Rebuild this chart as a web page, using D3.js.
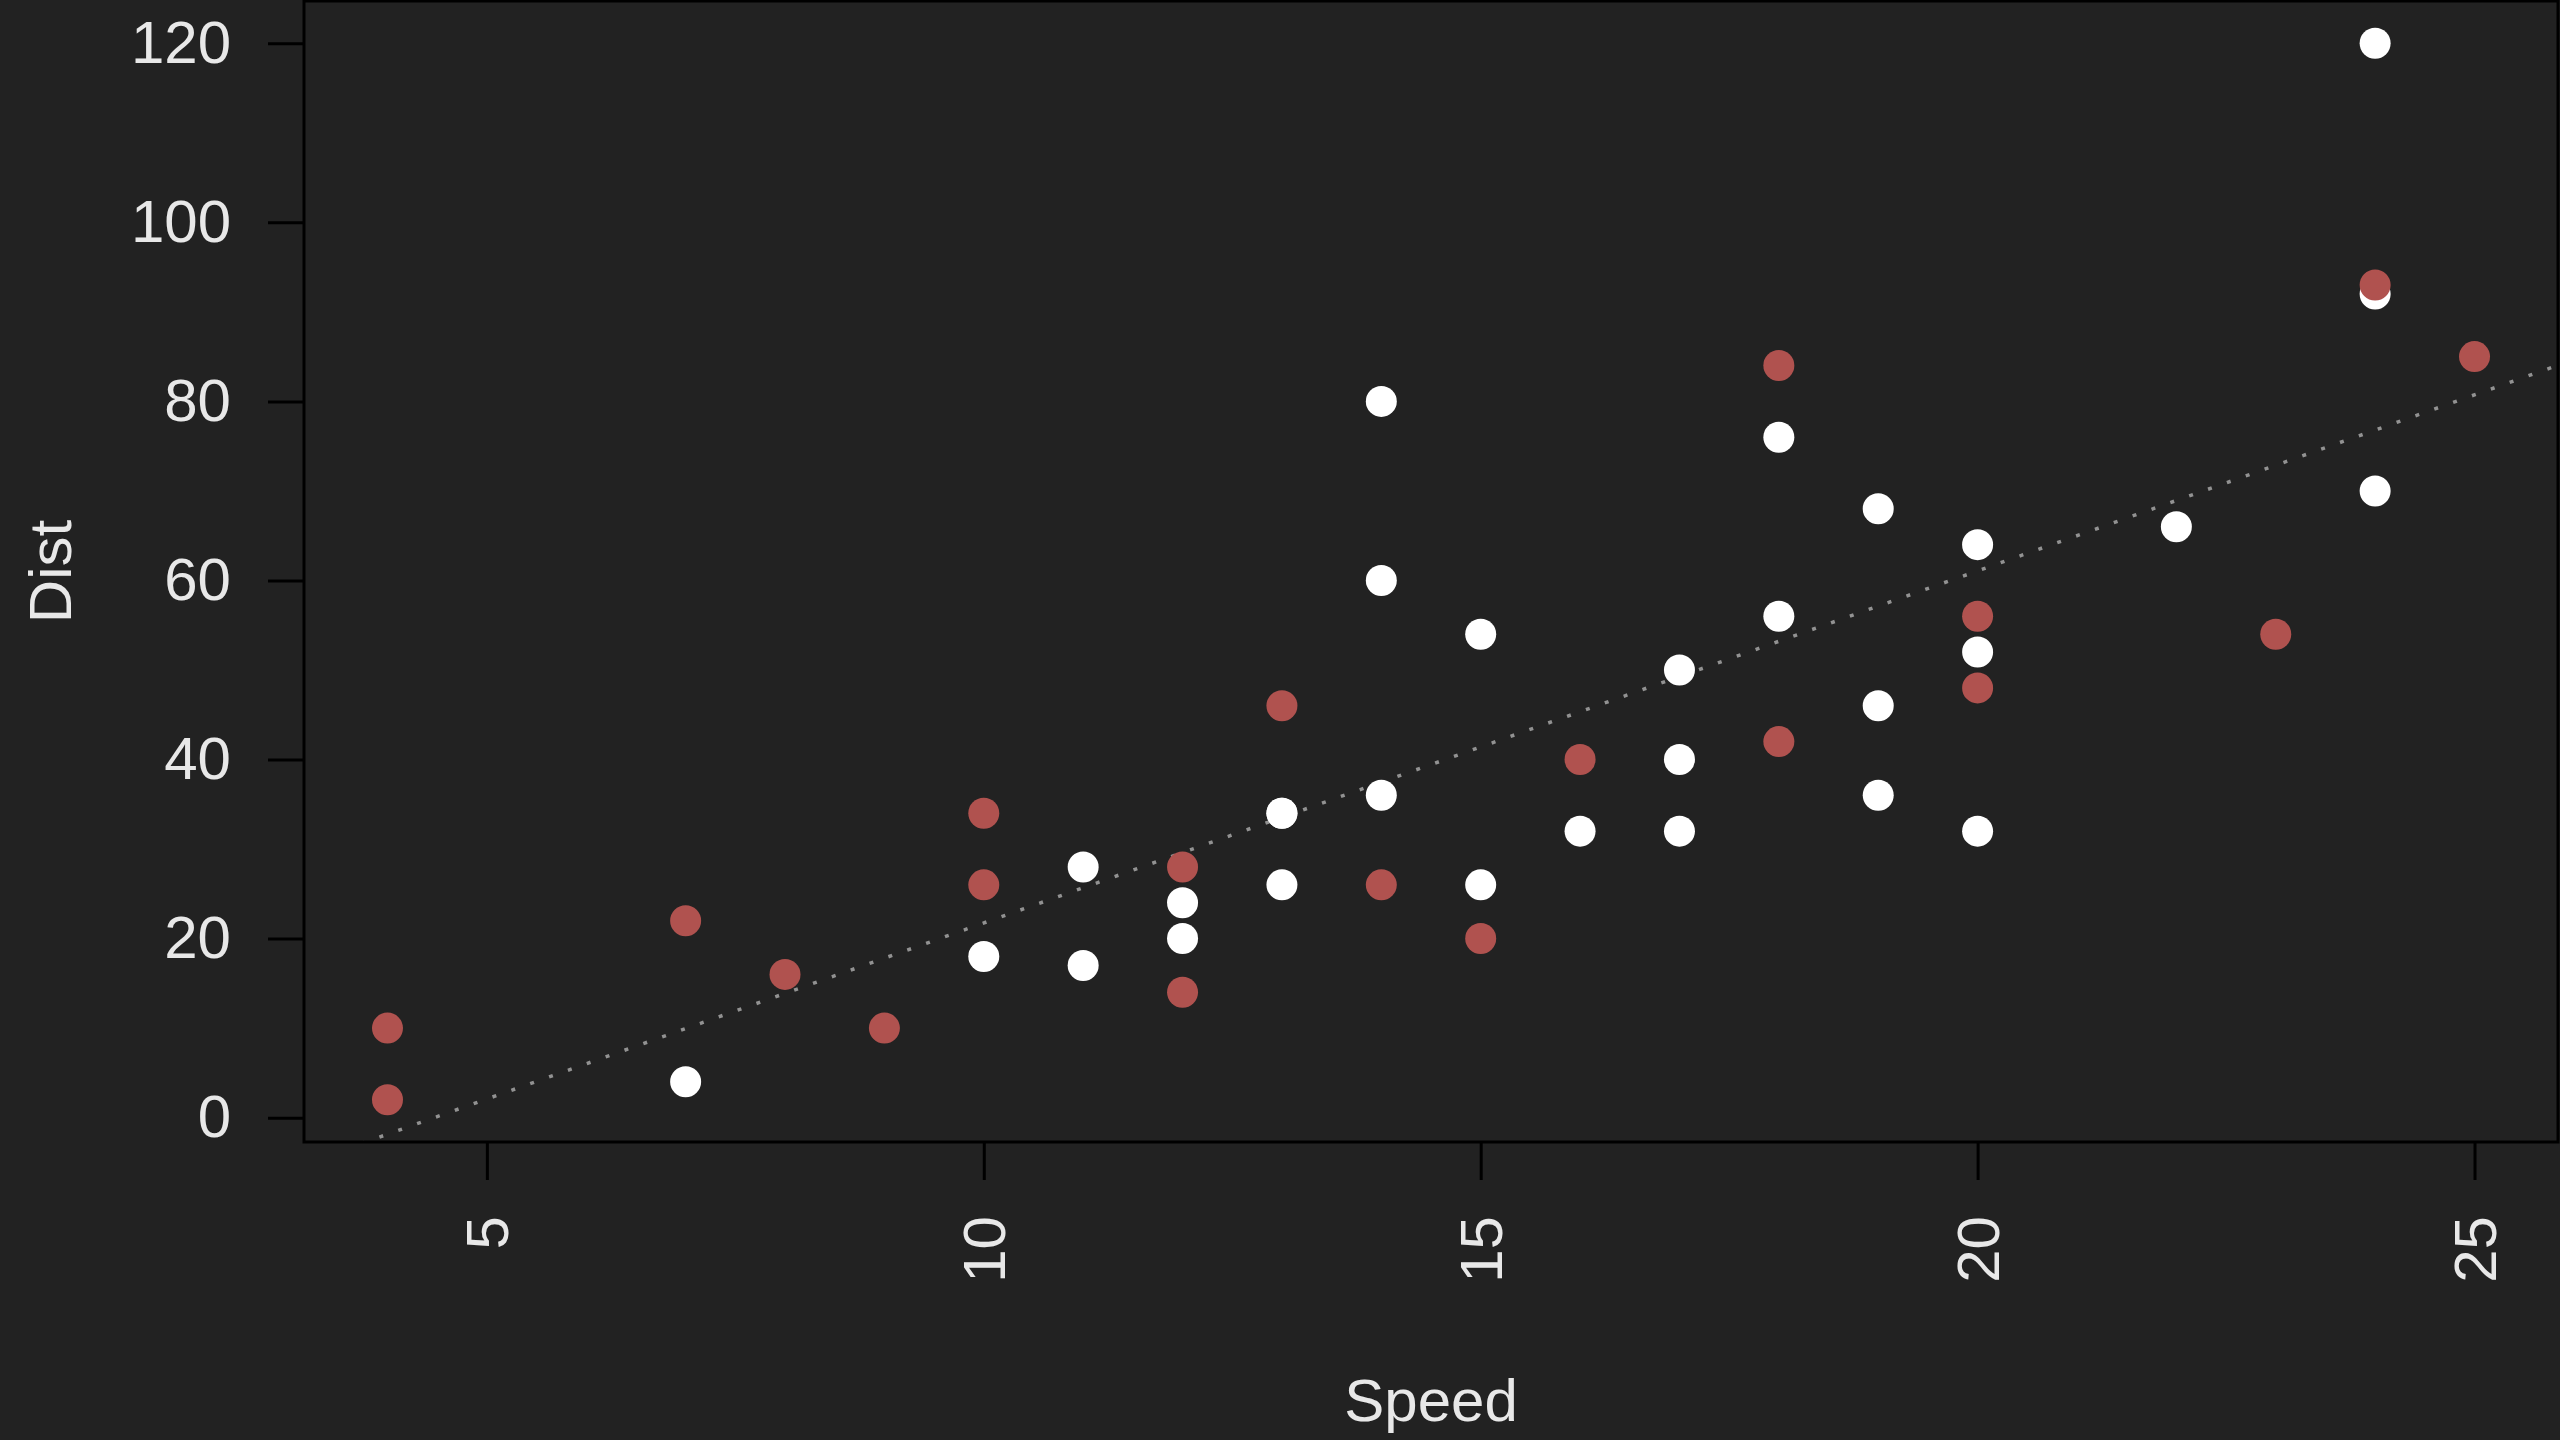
<!DOCTYPE html>
<html>
<head>
<meta charset="utf-8">
<script src="https://cdn.jsdelivr.net/npm/d3@7"></script>
<style>
  html, body { margin: 0; padding: 0; background: #222222; }
  svg { display: block; }
</style>
</head>
<body>
<svg id="chart" width="2560" height="1440"></svg>
<script>
// cars data
const speed = [4, 4, 7, 7, 8, 9, 10, 10, 10, 11, 11, 12, 12, 12, 12, 13, 13, 13, 13, 14, 14, 14, 14, 15, 15, 15, 16, 16, 17, 17, 17, 18, 18, 18, 18, 19, 19, 19, 20, 20, 20, 20, 20, 22, 23, 24, 24, 24, 24, 25];
const dist = [2, 10, 4, 22, 16, 10, 18, 26, 34, 17, 28, 14, 20, 24, 28, 26, 34, 34, 46, 26, 36, 60, 80, 20, 26, 54, 32, 40, 32, 40, 50, 42, 56, 76, 84, 36, 46, 68, 32, 48, 52, 56, 64, 66, 54, 70, 92, 93, 120, 85];
// 1 = red point, 0 = white point
const group = [1, 1, 0, 1, 1, 1, 0, 1, 1, 0, 0, 1, 0, 0, 1, 0, 0, 0, 1, 1, 0, 0, 0, 1, 0, 0, 0, 1, 0, 0, 0, 1, 0, 0, 1, 0, 0, 0, 0, 1, 0, 1, 0, 0, 1, 0, 0, 1, 0, 1];
const xTicks = [5, 10, 15, 20, 25];
const yTicks = [0, 20, 40, 60, 80, 100, 120];

const box = { left: 304, right: 2558, top: 1, bottom: 1142 };
const font = "'Liberation Sans', Arial, sans-serif";
const textColor = "#e8e8e8";

const points = speed.map((s, i) => ({ x: s, y: dist[i], g: group[i] }));

// R style 4% axis padding
function padded(ext) {
    let d = (ext[1] - ext[0]) * 0.04;
    return [ext[0] - d, ext[1] + d];
}

const x = d3.scaleLinear().domain(padded(d3.extent(speed))).range([box.left, box.right]);
const y = d3.scaleLinear().domain(padded(d3.extent(dist))).range([box.bottom, box.top]);

// least squares fit dist ~ speed (abline of lm)
const mx = d3.mean(speed), my = d3.mean(dist);
const slope = d3.sum(points, p => (p.x - mx) * (p.y - my)) / d3.sum(points, p => (p.x - mx) ** 2);
const intercept = my - slope * mx;

const svg = d3.select("#chart");

svg.append("defs").append("clipPath").attr("id", "plotClip")
    .append("rect")
    .attr("x", box.left).attr("y", box.top)
    .attr("width", box.right - box.left).attr("height", box.bottom - box.top);

// regression line, dotted
const xd = x.domain();
svg.append("line")
    .attr("clip-path", "url(#plotClip)")
    .attr("x1", x(xd[0])).attr("y1", y(intercept + slope * xd[0]))
    .attr("x2", x(xd[1])).attr("y2", y(intercept + slope * xd[1]))
    .attr("stroke", "#929292")
    .attr("stroke-width", 3.5)
    .attr("stroke-dasharray", "4,16");

// points
svg.append("g")
    .selectAll("circle")
    .data(points)
    .enter().append("circle")
    .attr("cx", d => x(d.x))
    .attr("cy", d => y(d.y))
    .attr("r", 15.5)
    .attr("fill", d => d.g ? "#b0524f" : "#ffffff");

// box
svg.append("rect")
    .attr("x", box.left).attr("y", box.top)
    .attr("width", box.right - box.left).attr("height", box.bottom - box.top)
    .attr("fill", "none")
    .attr("stroke", "#000")
    .attr("stroke-width", 3);

// y axis
const yAxis = svg.append("g")
    .attr("transform", `translate(${box.left},0)`)
    .call(d3.axisLeft(y).tickValues(yTicks).tickSize(36).tickPadding(37).tickSizeOuter(0));
yAxis.select(".domain").remove();
yAxis.selectAll(".tick line").attr("stroke", "#000").attr("stroke-width", 3);
yAxis.selectAll(".tick text")
    .attr("fill", textColor)
    .style("font-family", font)
    .style("font-size", "60px");

// x axis, labels perpendicular
const xAxis = svg.append("g")
    .attr("transform", `translate(0,${box.bottom})`)
    .call(d3.axisBottom(x).tickValues(xTicks).tickSize(38).tickSizeOuter(0));
xAxis.select(".domain").remove();
xAxis.selectAll(".tick line").attr("stroke", "#000").attr("stroke-width", 3);
xAxis.selectAll(".tick text")
    .attr("fill", textColor)
    .style("font-family", font)
    .style("font-size", "60px")
    .attr("text-anchor", "end")
    .attr("transform", "rotate(-90)")
    .attr("x", -74)
    .attr("y", 0)
    .attr("dy", "0.35em");

// axis titles
svg.append("text")
    .attr("x", (box.left + box.right) / 2)
    .attr("y", 1421)
    .attr("text-anchor", "middle")
    .attr("fill", textColor)
    .style("font-family", font)
    .style("font-size", "60px")
    .text("Speed");

svg.append("text")
    .attr("transform", `translate(71,${(box.top + box.bottom) / 2}) rotate(-90)`)
    .attr("text-anchor", "middle")
    .attr("fill", textColor)
    .style("font-family", font)
    .style("font-size", "60px")
    .text("Dist");
</script>
</body>
</html>
